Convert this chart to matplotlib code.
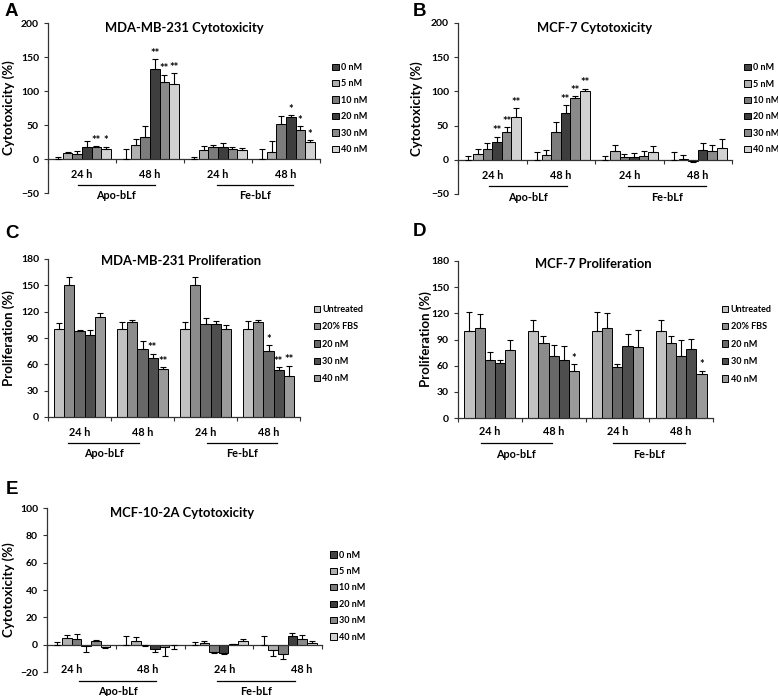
import matplotlib
matplotlib.use('Agg')
import matplotlib.pyplot as plt
from matplotlib.patches import Patch

plt.rcParams['font.family'] = ['Lato', 'DejaVu Sans']
plt.rcParams['font.weight'] = 'bold'

# ---------------- data ----------------
group_labels = ['24 h', '48 h', '24 h', '48 h']
treatment_labels = ['Apo-bLf', 'Fe-bLf']

cyt_series = ['0 nM', '5 nM', '10 nM', '20 nM', '30 nM', '40 nM']
prol_series = ['Untreated', '20% FBS', '20 nM', '30 nM', '40 nM']

# Panel A: MDA-MB-231 Cytotoxicity (rows = series, cols = Apo24, Apo48, Fe24, Fe48)
mda_cyt_vals = [[0, 0, 0, 0],
                [9, 20, 13, 10],
                [7, 33, 17, 52],
                [17, 133, 17, 62],
                [17, 113, 15, 42],
                [15, 110, 13, 25]]
mda_cyt_errs = [[3, 14, 3, 14],
                [1, 9, 6, 16],
                [5, 16, 4, 11],
                [9, 14, 6, 2],
                [2, 11, 2, 6],
                [3, 16, 2.5, 3]]
mda_cyt_stars = [['', '', '', ''],
                 ['', '', '', ''],
                 ['', '', '', ''],
                 ['', '**', '', '*'],
                 ['**', '**', '', '*'],
                 ['*', '**', '', '*']]

# Panel B: MCF-7 Cytotoxicity
mcf_cyt_vals = [[0, 0, 0, 0],
                [9, 7, 13, 1.5],
                [16, 40, 4, -1.5],
                [26, 69, 4, 15],
                [40, 91, 6, 12.5],
                [62, 100, 12, 17]]
mcf_cyt_errs = [[6, 11, 6, 11],
                [7, 8, 8, 5],
                [9, 15, 5, 2],
                [8, 11, 5.5, 10],
                [8, 2, 7, 9],
                [13, 4, 8, 14]]
mcf_cyt_stars = [['', '', '', ''],
                 ['', '', '', ''],
                 ['', '', '', ''],
                 ['**', '**', '', ''],
                 ['**', '**', '', ''],
                 ['**', '**', '', '']]

# Panel C: MDA-MB-231 Proliferation
mda_prol_vals = [[100, 100, 100, 100],
                 [150, 108, 150, 108],
                 [97.5, 78, 105.5, 75],
                 [93, 67, 106.5, 53],
                 [113.5, 55, 100, 46.5]]
mda_prol_errs = [[7.5, 8.5, 8, 9],
                 [9, 2.5, 9, 3],
                 [2, 8.5, 7, 6.5],
                 [6, 5, 3, 4],
                 [5, 2, 5, 12]]
mda_prol_stars = [['', '', '', ''],
                  ['', '', '', ''],
                  ['', '', '', '*'],
                  ['', '**', '', '**'],
                  ['', '**', '', '**']]

# Panel D: MCF-7 Proliferation
mcf_prol_vals = [[100, 100, 100, 100],
                 [103, 86, 103, 86],
                 [67, 71, 59, 71],
                 [63, 66, 83, 79],
                 [78, 54, 81, 51]]
mcf_prol_errs = [[22, 12, 22, 12],
                 [16, 8, 17, 8],
                 [9, 13, 3, 19],
                 [3.5, 17, 13, 12],
                 [12, 8, 20, 3]]
mcf_prol_stars = [['', '', '', ''],
                  ['', '', '', ''],
                  ['', '', '', ''],
                  ['', '', '', ''],
                  ['', '*', '', '*']]

# Panel E: MCF-10-2A Cytotoxicity
mcf10_cyt_vals = [[0, 0, 0, 0],
                  [5, 3, 1.5, -4],
                  [4.5, -0.5, -5, -6.5],
                  [-1, -3, -6, 6],
                  [3, -2, 0.5, 4.5],
                  [-1.5, -0.5, 3, 1.5]]
mcf10_cyt_errs = [[2, 6, 2, 6],
                  [2, 2.5, 1.5, 4],
                  [3.5, 0.3, 1, 4],
                  [4, 2.5, 1, 2.5],
                  [0.5, 6.5, 0.3, 2.5],
                  [1, 3, 1, 1.5]]
mcf10_cyt_stars = [['', '', '', '']] * 6

# ---------------- styling ----------------
cyt_colors = ['#454545', '#b0b0b0', '#7c7c7c', '#3e3e3e', '#8a8a8a', '#d2d2d2']
prol_colors = ['#c2c2c2', '#8c8c8c', '#686868', '#4e4e4e', '#9a9a9a']

W, H = 778, 696
fig = plt.figure(figsize=(W / 100, H / 100), dpi=100)


def rect(left, top, right, bottom):
    return [left / W, 1 - bottom / H, (right - left) / W, (bottom - top) / H]


def panel(r, title, ylabel, series, colors, vals, errs, stars, ylim, yticks,
          bar_w, leg_anchor, leg_space, cat_y, line_y, treat_y,
          apo_span, fe_span, ylab_x, cat_x=None, zero_axis=True,
          title_xy=(0.5, 0.97)):
    ax = fig.add_axes(r)
    n = len(series)
    for i, name in enumerate(series):
        xs = [g + (i - (n - 1) / 2) * bar_w for g in range(4)]
        v = vals[i]
        e = errs[i]
        ax.bar(xs, v, width=bar_w, color=colors[i], edgecolor='black',
               linewidth=0.7, zorder=2, label=name)
        lower = [ee if vv < 0 else 0 for vv, ee in zip(v, e)]
        upper = [ee if vv >= 0 else 0 for vv, ee in zip(v, e)]
        ax.errorbar(xs, v, yerr=[lower, upper], fmt='none', ecolor='black',
                    elinewidth=0.8, capsize=2.2, capthick=0.8, zorder=3)
        for x, vv, ee, s in zip(xs, v, e, stars[i]):
            if s:
                ax.annotate(s, (x, vv + ee), xytext=(0, 0.3),
                            textcoords='offset points', ha='center',
                            va='bottom', fontsize=8, fontweight='bold')
    ax.set_xlim(-0.5, 3.5)
    ax.set_ylim(*ylim)
    ax.set_yticks(yticks)
    ax.set_xticks([-0.5, 0.5, 1.5, 2.5, 3.5])
    ax.set_xticklabels([])
    ax.tick_params(axis='both', direction='out', length=3, width=0.8,
                   labelsize=7.5, color='#333333')
    for lab in ax.get_yticklabels():
        lab.set_fontweight('bold')
    for s in ['top', 'right']:
        ax.spines[s].set_visible(False)
    for s in ['left', 'bottom']:
        ax.spines[s].set_linewidth(0.9)
        ax.spines[s].set_color('#333333')
    if zero_axis:
        ax.spines['bottom'].set_position(('data', 0))
    ax.set_ylabel(ylabel, fontsize=9.5, fontweight='bold')
    ax.yaxis.set_label_coords(ylab_x, 0.5)
    ax.text(title_xy[0], title_xy[1], title, transform=ax.transAxes,
            ha='center', va='center', fontsize=9.4, fontweight='bold')
    tr = ax.get_xaxis_transform()
    if cat_x is None:
        cat_x = [0, 1, 2, 3]
    for cx, lab in zip(cat_x, group_labels):
        ax.text(cx, cat_y, lab, transform=tr, ha='center', va='center',
                fontsize=7.8, fontweight='bold', clip_on=False)
    for span, lab in zip([apo_span, fe_span], treatment_labels):
        ax.plot(span, [line_y, line_y], transform=tr, color='black', lw=0.9,
                clip_on=False)
        ax.text(sum(span) / 2, treat_y, lab, transform=tr, ha='center',
                va='center', fontsize=7.8, fontweight='bold', clip_on=False)
    handles = [Patch(facecolor=c, edgecolor='black', linewidth=0.7, label=s)
               for c, s in zip(colors, series)]
    ax.legend(handles=handles, loc='upper left', bbox_to_anchor=leg_anchor,
              frameon=False, handlelength=0.7, handleheight=0.7,
              handletextpad=0.25, labelspacing=leg_space, borderpad=0,
              borderaxespad=0, prop={'weight': 'bold', 'size': 6.5})
    return ax


# A
panel(rect(48, 23, 320, 193), 'MDA-MB-231 Cytotoxicity', 'Cytotoxicity (%)',
      cyt_series, cyt_colors, mda_cyt_vals, mda_cyt_errs, mda_cyt_stars,
      (-50, 200), range(-50, 201, 50), 0.14, (1.045, 0.765), 0.82,
      0.106, 0.047, -0.012, (-0.06, 1.07), (1.99, 3.1), -0.12)
# B
panel(rect(458, 23, 732, 194), 'MCF-7 Cytotoxicity', 'Cytotoxicity (%)',
      cyt_series, cyt_colors, mcf_cyt_vals, mcf_cyt_errs, mcf_cyt_stars,
      (-50, 200), range(-50, 201, 50), 0.14, (1.045, 0.765), 0.82,
      0.106, 0.047, -0.02, (-0.05, 1.09), (1.98, 3.12), -0.128)
# C
panel(rect(48, 259, 300, 417), 'MDA-MB-231 Proliferation', 'Proliferation (%)',
      prol_series, prol_colors, mda_prol_vals, mda_prol_errs, mda_prol_stars,
      (0, 180), range(0, 181, 30), 0.16, (1.055, 0.71), 0.93,
      -0.095, -0.165, -0.228, (-0.18, 0.94), (2.02, 3.13), -0.131,
      zero_axis=False, title_xy=(0.53, 0.99))
# D
panel(rect(458, 261, 713, 418), 'MCF-7 Proliferation', 'Proliferation (%)',
      prol_series, prol_colors, mcf_prol_vals, mcf_prol_errs, mcf_prol_stars,
      (0, 180), range(0, 181, 30), 0.16, (1.035, 0.72), 0.93,
      -0.089, -0.159, -0.231, (-0.14, 0.97), (1.93, 3.06), -0.102,
      zero_axis=False, title_xy=(0.53, 0.98))
# E
panel(rect(47, 508, 322, 672), 'MCF-10-2A Cytotoxicity', 'Cytotoxicity (%)',
      cyt_series, cyt_colors, mcf10_cyt_vals, mcf10_cyt_errs, mcf10_cyt_stars,
      (-20, 100), range(-20, 101, 20), 0.14, (1.03, 0.74), 0.82,
      0.018, -0.055, -0.116, (-0.03, 1.09), (1.97, 3.1), -0.116,
      cat_x=[-0.14, 0.97, 2.08, 3.2], title_xy=(0.49, 0.97))

# panel letters
for letter, (px, py) in zip('ABCDE', [(11, 12), (420, 12), (12, 233),
                                       (420, 232), (12, 489)]):
    fig.text(px / W, 1 - py / H, letter, ha='center', va='center',
             fontsize=13.5, fontweight='bold', family='Liberation Sans')

fig.savefig('out.png', dpi=100)
